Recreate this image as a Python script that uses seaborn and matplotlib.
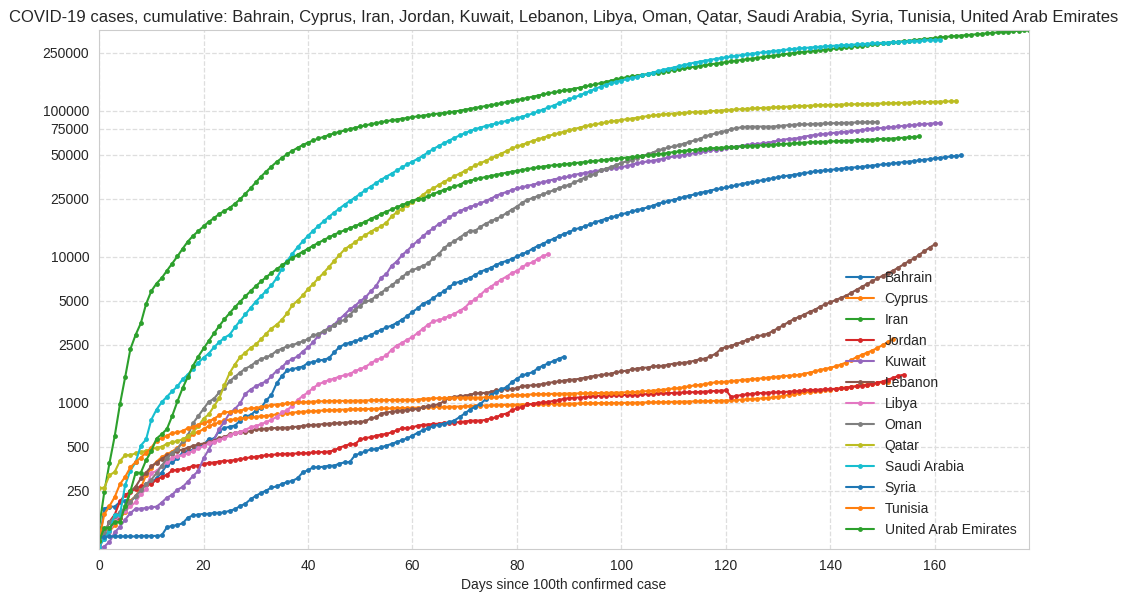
import numpy as np
import pandas as pd
import matplotlib
matplotlib.use("Agg")
import matplotlib.pyplot as plt
import seaborn as sns
from matplotlib.ticker import FixedLocator, FuncFormatter, NullLocator

# cumulative cases, one value per day since the 100th confirmed case
bahrain = [109, 189, 195, 195, 210, 214, 214, 228, 256, 278, 285, 305, 334, 377, 392, 419, 458, 466, 476, 499, 515, 567,
           569, 643, 672, 688, 700, 756, 811, 823, 887, 925, 1040, 1136, 1361, 1528, 1671, 1700, 1740, 1773, 1881, 1907,
           1952, 1973, 2027, 2217, 2411, 2518, 2588, 2647, 2723, 2811,
           2921, 3040, 3170, 3284, 3383, 3533, 3720, 3934, 4199, 4444, 4774, 4941, 5236, 5531, 5816, 6198, 6583, 6747,
           6956, 7184, 7532, 7888, 8174, 8414, 8802, 9138, 9366, 9692, 10052, 10449, 10793,
           11398, 11871, 12311, 12815, 13296, 13835, 14383, 14763, 15417, 15731, 16200, 16667, 17269, 17713, 18227,
           18627, 19013, 19553, 19961, 20430, 20916, 21331, 21764, 22407, 23062, 23570, 24081, 24569, 25092, 25719,
           26239, 26758, 27414, 27837, 28410, 28985, 29367, 29821, 30321, 30931, 31528, 32039, 32470, 32941, 33476,
           34078, 34560, 35084, 35560, 36004, 36422, 36936, 37466, 37819, 38458, 38829, 39013, 39360, 39773, 40070, 40593,
           40812, 40979, 41378, 41736, 42132, 42522, 42889, 43227, 43647, 44011, 44464, 44804, 45264, 45724, 46257,
           46751, 47185, 47661, 48192, 48609, 49022, 49401]
cyprus = [116, 124, 132, 146, 162, 179, 214, 230, 262, 320, 356, 396, 426, 446, 465, 494, 526, 564, 616, 633, 662,
          695, 715, 735, 761, 767, 772, 784, 790, 795, 804, 810, 817, 822, 837, 843, 850, 857, 864, 872, 874,
          878, 883, 889, 891, 892, 898, 901, 903, 905, 907, 910, 911, 914, 916, 916, 918, 920, 922, 923, 927,
          927, 931, 935, 937, 939, 939, 942, 944, 944, 949, 952, 958, 960, 960, 962, 966, 970, 970, 972, 975,
          975, 977, 980, 983, 985, 985, 985, 986, 987, 987, 990, 992, 992, 994, 996, 996, 997, 998, 999, 999,
          1000, 1002, 1004, 1006, 1008, 1010, 1012, 1014, 1016, 1018, 1020, 1021, 1022, 1023, 1025, 1028, 1030, 1033,
          1036, 1038,
          1042, 1047, 1052, 1058, 1063, 1068, 1074, 1080, 1090, 1103, 1118, 1135, 1150, 1164, 1179, 1190, 1200, 1210,
          1220, 1232,
          1247, 1262, 1275, 1290, 1305, 1320, 1336, 1350, 1366, 1384, 1400]
iran = [139, 245, 388, 593,
        978, 1501, 2336, 2922, 3513, 4747, 5823, 6566, 7161, 8042, 9000, 10075, 11364, 12729, 13938, 14991, 16169,
        17361, 18407, 19644, 20610, 21638, 23049, 24811, 27017, 29406, 32332, 35408, 38309, 41495, 44605,
        47593, 50468, 53183, 55743, 58226, 60500, 62589, 64586, 66220, 68192, 70029, 71686, 73303, 74877, 76389,
        77995, 79494, 80868, 82211, 83505, 84802, 85996, 87026, 88194, 89328, 90481, 91472, 92584, 93657, 94640,
        95646, 96448, 97424, 98647, 99970, 101650, 103135, 104691, 106220, 107603, 109286, 110767, 112725, 114533,
        116635, 118392, 120198, 122492, 124603, 126949, 129341, 131652, 133521, 135701, 137724, 139511, 141591,
        143849, 146668, 148950, 151466,
        154445, 157562, 160696, 164270, 167156, 169425, 171789, 173832, 175927, 177938, 180156, 182525, 184955,
        187427, 189876, 192439, 195051, 197647, 200262, 202584, 204952, 207525, 209970, 212501, 215096, 217724,
        220180, 222669, 225205, 227662,
        230211, 232863, 235429, 237878, 240438, 243051, 245688, 248379, 250458, 252720, 255117, 257303, 259652,
        262173, 264561, 267061, 269440, 271606, 273788, 276202, 278827, 281413, 284034, 286523, 288839, 291172,
        293606, 296273, 298909, 301530, 304204,
        306752, 309437, 312035, 314786, 317483, 320117, 322567, 324692, 326712, 328844, 331189, 333699, 336324,
        338825, 341070, 343203, 345450, 347835, 350279, 352558, 354764, 356792]
jordan = [112, 127, 154, 172, 212, 235, 246, 259, 268, 274, 278, 299, 310, 323, 345, 349, 353, 358, 372, 372, 381,
          389, 391, 397, 401, 402, 407, 413, 417, 425, 428, 435, 437, 441, 444, 447, 449, 449, 451, 453, 453,
          459, 460, 461, 465, 473, 494, 508, 522, 523, 562, 576, 582, 596, 607, 613, 629, 649, 672, 672, 679,
          700, 708, 711, 718, 720, 730, 733, 734, 739, 746, 755, 757, 757, 765, 784, 795, 831, 845, 890, 918,
          938, 977, 984, 1001, 1008, 1015, 1033, 1042, 1071, 1074, 1086, 1089, 1094, 1108, 1114, 1121, 1124, 1128,
          1128, 1132,
          1133, 1133, 1135, 1143, 1150, 1154, 1164, 1164, 1167, 1169, 1176, 1179, 1181, 1184, 1188, 1196, 1201, 1206,
          1213, 1220,
          1100, 1118, 1131, 1146, 1155, 1163, 1169, 1176, 1179, 1181, 1187, 1195, 1199, 1206, 1218, 1223, 1228, 1232,
          1237, 1243,
          1249, 1256, 1275, 1285, 1301, 1315, 1329, 1357, 1378, 1401, 1445, 1482, 1532, 1560]
kuwait = [100, 104, 112, 130, 142, 159, 176, 189, 189, 191, 193, 195, 208, 225, 235, 255, 266, 289, 317, 342, 417,
          479, 556, 665, 743, 855, 910, 993, 1154, 1234, 1300, 1355, 1405, 1524, 1658, 1751, 1915, 1995, 2080, 2248,
          2399,
          2614, 2892, 3075, 3288, 3440, 3740, 4024, 4377, 4619, 4983, 5278, 5804, 6289, 7208, 7623, 8688, 9286, 10277,
          11028, 11975,
          12860, 13802, 14850, 15691, 16764, 17568, 18609, 19564, 20464, 21302, 21967, 22575, 23267, 24112, 24991,
          26192, 27043, 27762, 28649, 29359,
          29921, 30644, 31131, 31848, 32510, 33140, 33823, 34432, 34952, 35466, 36431, 36958, 37533, 38074, 38678,
          39145, 39650, 40291, 40755, 41033,
          41879, 42788, 43703, 44391, 44942, 45524, 46195, 46940, 47859, 48672, 49303, 49941, 50644, 51245, 52007,
          52840, 53580, 54058, 54894, 55508,
          56174, 56877, 57668, 58221, 58904, 59204, 59763, 60434, 61185, 62625, 63309, 64120, 64379, 65149, 66529,
          67448, 68299, 68774, 69425, 70045,
          70727, 71199, 71713, 72400, 73068, 73785, 74486, 75185, 75697, 76205, 76827, 77470, 78145, 78767, 79269,
          79957, 80528, 81076, 81573, 82067, 82271]
lebanon = [110, 120, 133, 157, 163, 187, 248, 267, 304, 333, 368, 391, 412, 438, 446, 470, 479,
           494, 508, 520, 527, 541, 548, 576, 582, 609, 619, 630, 632, 641, 658, 663, 668, 672, 673, 677, 677, 682,
           688, 696, 704, 707, 710, 717, 721, 725, 729,
           733, 737, 740, 741, 750, 784, 797, 845, 859, 870, 878, 886, 891, 902, 911, 931, 954, 961, 981, 1024,
           1086, 1097, 1114, 1119, 1140, 1161, 1168, 1172, 1191, 1220, 1233,
           1242, 1250, 1256, 1306, 1312, 1320, 1331, 1350, 1370, 1388, 1402, 1422, 1442, 1446, 1464, 1489, 1510,
           1536, 1551, 1570, 1587, 1622, 1644, 1662, 1697, 1719, 1740, 1745, 1778, 1788,
           1796, 1830, 1855, 1873, 1885, 1907, 1946, 1990, 2011, 2082, 2168, 2334, 2419, 2451, 2542, 2599, 2700,
           2775, 2859, 2905, 2980, 3104, 3260, 3402, 3582, 3750, 3879, 4023, 4205, 4334, 4555,
           4730, 4885, 5062, 5240, 5417, 5672, 5951, 6223, 6517, 6812, 7121, 7413, 7711, 8045, 8442, 8881, 9337,
           9758, 10347, 10952, 11580, 12191]
libya = [105, 118, 130, 156, 170, 182, 196, 209, 238, 256, 332, 341, 372, 393, 418, 432, 438, 454, 467, 489, 505,
         528, 544, 560, 571, 600, 620, 631, 655, 680, 698, 713, 740, 765, 805, 860, 891, 960, 1046, 1117, 1182,
         1268, 1342, 1389, 1433, 1467, 1514, 1546, 1580, 1652, 1704, 1768, 1866, 1960, 2029, 2116, 2314, 2472, 2577,
         2710, 2827, 3017, 3222, 3438, 3621, 3691, 3786, 3941, 4063, 4275, 4475, 4879, 5121, 5499, 5929, 6251, 6611,
         6993, 7327, 7738, 8000, 8511, 8933, 9162, 9707, 10121, 10437]
oman = [109, 131, 152, 167, 179, 192,
        210, 231, 252, 277, 298, 331, 371, 419, 457, 484, 546, 599, 727, 813, 910, 1019, 1069, 1180, 1266, 1410,
        1508, 1614, 1716, 1790, 1905, 1998, 2049, 2131, 2274, 2348,
        2447, 2483, 2568, 2637, 2735, 2903, 2958, 3112, 3224, 3399, 3573, 3721, 4019, 4341, 4625, 4948, 5029, 5379,
        5671, 6043, 6370, 6794, 7257, 7770, 8118, 8373, 8698, 9009, 9820, 10423, 11437,
        12223, 12799, 13538, 14316, 15086, 15086, 16016, 16882, 17486, 18198, 18887, 19954, 21071, 22077, 23481,
        24524, 25269, 26079, 26818, 27670, 28566, 29471, 30443, 31076, 32394, 33536, 34902, 36034, 37060, 39060,
        40070, 41194, 42555, 43929, 45106, 46178, 47735, 49055, 50207, 51725, 53614, 54697, 56015, 57003, 58179,
        59568, 61247, 62574, 64193, 66661, 68400, 69887, 71547, 72646, 74858, 76005, 77058, 77904, 77904, 77904,
        77904,
        77904, 77904, 78569, 79159, 79673, 80266, 80713, 80713, 80713, 81357, 81580, 81787, 82050, 82299, 82531,
        82743, 82924, 83086, 83226, 83418, 83606, 83769]
qatar = [262, 262, 320, 337, 401, 439, 439, 452, 460, 470, 481, 494, 501, 526, 537, 549, 562, 590, 634, 693, 781,
         835, 949, 1075, 1325, 1604, 1832, 2057, 2210, 2376, 2512, 2728, 2979, 3231, 3428, 3711, 4103, 4663, 5008,
         5448, 6015, 6533, 7141, 7764, 8525, 9358, 10287, 11244, 11921, 12564, 13409,
         14096, 14872, 15551, 16191, 17142, 18890, 20201, 21331, 22520, 23623, 24943, 26539, 28272, 29425, 30972,
         32604, 33969, 35606, 37097, 38651, 40481, 42213, 43714, 45465, 47207, 48947, 50914, 52907, 55262, 56910,
         58433,
         60259, 62160, 63741, 65495, 67195, 68790, 70158, 71879, 73595, 75071, 76588, 78416, 79602, 80876, 82077,
         83174, 84441, 85462, 86488, 87369, 88403, 89579, 90778, 91838, 92784, 93663, 94413, 95106, 95691, 96088,
         96727, 97272, 97897, 98323, 98653, 99183, 99799, 100345, 100945, 101553, 102110, 102630, 103128, 103598,
         104016, 104533, 105057, 105477, 105898, 106308, 106648, 107037, 107430, 107871, 108244, 108638, 109036,
         109305, 109597, 109880, 110153,
         110460, 110695, 110911, 111107, 111322, 111538, 111805, 112092, 112383, 112650, 112947, 113244, 113538,
         113938, 114281, 114533, 114809, 115058, 115368, 115661, 115956, 116224]
saudi_arabia = [103, 118, 133, 171, 171, 274, 344, 392, 511, 562, 767, 900, 1012, 1104, 1203, 1299, 1453, 1563,
                1720, 1885, 2039, 2179, 2402, 2605, 2795, 2932, 3287, 3651, 4033, 4462, 4934, 5369, 5862, 6380, 7142,
                8274, 9362, 10484, 11631, 12772, 13930, 15102, 16299, 17522, 18811, 20077, 21402, 22753,
                24097, 25459, 27011, 28656, 30251, 31938, 33731, 35432, 37136, 39048, 41014, 42925, 44830, 46869,
                49176, 52016, 54752, 57345, 59854, 62545, 65077, 67719, 70161, 72560, 74795, 76726, 78541, 80185,
                81766, 83384, 85261,
                87142, 89011, 91182, 93157, 95748, 98869, 101914, 105283, 108571, 112288, 116021, 119942, 123308,
                127541, 132048, 136315, 141234, 145991, 150292, 154233, 157612, 161005, 164144, 167267, 170639,
                174577, 178504, 182493, 186436, 190823,
                194225, 197608, 201801, 205929, 209509, 213716, 217108, 220144, 223327, 226486, 229480, 232259,
                235111, 237803, 240474, 243238, 245851, 248416, 250920, 253349, 255825, 258156, 260394, 262772,
                264973, 266941, 268934, 270831, 272590, 274219, 275905,
                277478, 278835, 280093, 281456, 282824, 284226, 285793, 287262, 288690, 289947, 291468, 293037,
                294519, 295902, 297315, 298542, 299914, 301323, 302686, 303973, 305186, 306370]
syria = [121, 121, 122, 122, 122, 122, 122, 122, 123, 123, 123, 123, 124,
         141, 144, 146, 150, 164, 170, 172, 174,
         174, 177, 177, 178, 183, 187, 197, 204, 219, 231,
         242, 251, 264, 268, 279, 287, 293, 305, 335, 346,
         363, 363, 366, 372, 372, 384, 392, 394, 439, 451,
         467, 480, 484, 496, 510, 524, 540, 556, 572, 597,
         625, 650, 672, 694, 708, 722, 738, 758, 799, 847,
         900, 944, 984, 1060, 1125, 1188, 1242, 1281, 1386, 1465,
         1543, 1580, 1624, 1730, 1800, 1866, 1938, 2008, 2073]
tunisia = [114, 173, 197, 227, 278, 312, 362, 394, 423, 455, 495, 553, 574, 596, 623, 628, 643, 671, 685, 707, 726,
           747, 780, 822, 864, 866, 879, 884, 909, 918, 922, 939, 949, 967, 975, 980, 994, 998, 1009, 1013, 1018,
           1022, 1025, 1026, 1030, 1032, 1032, 1032, 1033, 1035, 1037, 1037, 1043, 1044, 1045, 1045, 1046, 1048,
           1048, 1051, 1051,
           1051, 1068, 1071, 1076, 1077, 1077, 1084, 1086, 1087, 1087, 1087, 1087, 1087, 1093, 1094, 1094, 1110,
           1118, 1125, 1128,
           1132, 1136, 1146, 1148, 1150, 1151, 1155, 1156, 1157, 1159, 1160, 1162, 1163, 1165, 1168, 1170, 1172,
           1174, 1175, 1178,
           1181, 1186, 1190, 1199, 1205, 1214, 1221, 1232, 1245, 1256, 1263, 1284, 1299, 1319, 1327, 1346, 1369,
           1381, 1389, 1398,
           1410, 1420, 1432, 1446, 1455, 1463, 1474, 1490, 1503, 1514, 1526, 1535, 1544, 1556, 1584, 1611, 1642,
           1684, 1711, 1743,
           1780, 1832, 1890, 1964, 2062, 2133, 2207, 2284, 2380, 2491, 2607, 2740]
uae = [113, 140, 140, 153, 153, 198, 248, 333, 333, 405, 468, 570, 611, 664,
       814, 1024, 1264, 1505, 1799, 2076, 2359, 2659, 2990, 3360, 3736, 4123, 4521, 4933, 5365, 5825, 6302, 6781,
       7265, 7755, 8238, 8756, 9281, 9813, 10349, 10839, 11380, 11929, 12481, 13038,
       13599, 14163, 14730, 15192, 15738, 16240, 16793, 17417, 18198, 18878, 19661, 20386, 21084, 21831, 22627,
       23358, 24190, 24915, 25063, 25955, 26898, 27892, 28704, 29485, 30307, 31086, 32532, 33170, 33896, 34557,
       35192,
       35788, 36359, 37018, 37642, 38268, 38808, 39376, 39904, 40507, 40986, 41499, 41990, 42294, 42636, 42982,
       43364, 43752, 44145, 44533, 44925, 45303, 45683, 46133, 46563, 46973, 47360, 47797, 48246, 48667, 49069,
       49469, 49930, 50357, 50857, 51540, 52068, 52600, 53045, 53577, 54050, 54453, 54854, 55198, 55573, 55848,
       56129, 56422, 56711, 56922, 57193, 57498, 57734, 57988, 58249, 58562, 58827, 59177, 59546, 59921, 60223,
       60506,
       60760, 61006, 61163, 61352, 61606, 61845, 62061, 62300, 62525, 62704, 62966, 63212, 63489, 63819, 64102,
       64312, 64541, 64906, 65341, 65802, 66193, 66622]

countries = ["Bahrain", "Cyprus", "Iran", "Jordan", "Kuwait", "Lebanon", "Libya", "Oman", "Qatar",
             "Saudi Arabia", "Syria", "Tunisia", "United Arab Emirates"]
series = [bahrain, cyprus, iran, jordan, kuwait, lebanon, libya, oman, qatar, saudi_arabia, syria, tunisia, uae]
yticks = [250, 500, 1000, 2500, 5000, 10000, 25000, 50000, 75000, 100000, 250000]

frames = []
for name, vals in zip(countries, series):
    frames.append(pd.DataFrame({"day": np.arange(len(vals)), "cases": vals, "country": name}))
df = pd.concat(frames, ignore_index=True)

sns.set_style("whitegrid", {"grid.linestyle": "--", "grid.color": "#dedede"})
plt.rcParams["font.family"] = ["Liberation Sans", "DejaVu Sans"]
plt.rcParams["grid.linewidth"] = 0.9

tab10 = sns.color_palette("tab10")
palette = {name: tab10[i % 10] for i, name in enumerate(countries)}

fig, ax = plt.subplots(figsize=(11.28, 5.98), dpi=100)
fig.subplots_adjust(left=0.0878, right=0.9122, top=0.9498, bottom=0.0819)

sns.lineplot(data=df, x="day", y="cases", hue="country", hue_order=countries, palette=palette,
             marker=".", markersize=7, markeredgewidth=0, linewidth=1.5, estimator=None, ax=ax)

ax.set_yscale("log")
ax.set_xlim(0, df["day"].max())
ax.set_ylim(100, df["cases"].max())
ax.yaxis.set_major_locator(FixedLocator(yticks))
ax.yaxis.set_major_formatter(FuncFormatter(lambda v, _: "%d" % v))
ax.yaxis.set_minor_locator(NullLocator())
ax.set_xlabel("Days since 100th confirmed case")
ax.set_ylabel("")
ax.set_title("COVID-19 cases, cumulative: " + ", ".join(countries), fontsize=12)
ax.legend(loc="lower right", frameon=False)

fig.savefig("out.png", dpi=100)
